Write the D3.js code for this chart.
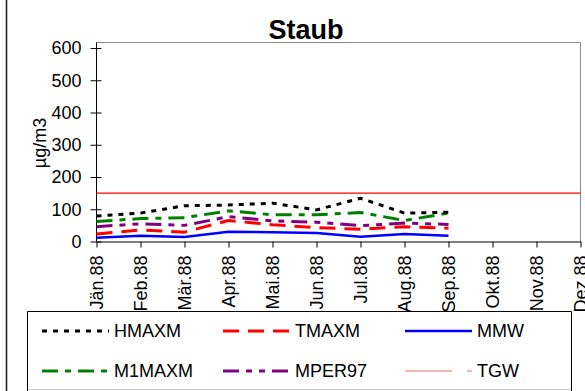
<!DOCTYPE html>
<html><head><meta charset="utf-8">
<script src="https://cdn.jsdelivr.net/npm/d3@7"></script>
<style>
body{margin:0;background:#fff;}
svg{display:block;font-family:"Liberation Sans",Arial,sans-serif;}
</style></head>
<body><svg id="c" width="585" height="391"></svg>
<script>
const months = ["Jän.88","Feb.88","Mär.88","Apr.88","Mai.88","Jun.88","Jul.88","Aug.88","Sep.88","Okt.88","Nov.88","Dez.88"];
const yTicks = [0,100,200,300,400,500,600];
const HMAXM  = [79, 88, 111, 113, 119, 98, 134, 88, 91];
const TMAXM  = [23, 36, 29, 65, 52, 43, 38, 46, 41];
const MMW    = [12, 18, 14, 30, 29, 26, 15, 23, 18];
const M1MAXM = [62, 71, 74, 95, 83, 83, 90, 65, 88];
const MPER97 = [46, 55, 50, 77, 64, 60, 49, 57, 53];
const TGW    = [150,150,150,150,150,150,150,150,150,150,150,150];

const seriesNames = ["HMAXM","TMAXM","MMW","M1MAXM","MPER97","TGW"];
const seriesData = [HMAXM, TMAXM, MMW, M1MAXM, MPER97, TGW];
const styles = [
  {color:"#000000", w:3, dash:"5,6"},
  {color:"#ff0000", w:3, dash:"16,9"},
  {color:"#0000ff", w:2.5, dash:null},
  {color:"#008000", w:3, dash:"16,7,6,7"},
  {color:"#800080", w:3, dash:"16,7,6,7,6,7"},
  {color:"#ff0000", w:1.4, dash:null}
];

const svg = d3.select("#c");
const L = 96.5, R = 580.5, T = 42.5, B = 241.5;
const x = d3.scalePoint().domain(months).range([L, R]);
const y = d3.scaleLinear().domain([0,600]).range([B, 48]);

// outer frame line
svg.append("line").attr("x1",6.5).attr("x2",6.5).attr("y1",0).attr("y2",391)
  .attr("stroke","#222").attr("stroke-width",1.6);

// title
svg.append("text").attr("x",306).attr("y",39).attr("text-anchor","middle")
  .attr("font-size",27).attr("font-weight","bold").text("Staub");

// plot border top/right
svg.append("path").attr("d",`M${L},${T}H${R}V${B}`).attr("fill","none")
  .attr("stroke","#888").attr("stroke-width",1);

// y axis
const ya = svg.append("g").attr("transform",`translate(${L},0)`)
  .call(d3.axisLeft(y).tickValues(yTicks).tickSize(6).tickSizeOuter(0).tickPadding(9));
ya.select(".domain").remove();
ya.selectAll(".tick line").attr("x1",5).attr("stroke","#000");
ya.selectAll(".tick text").attr("font-size",18).attr("font-family","Liberation Sans, Arial, sans-serif").attr("fill","#000");
svg.append("line").attr("x1",L).attr("x2",L).attr("y1",T).attr("y2",B).attr("stroke","#000");

// x axis
const xa = svg.append("g").attr("transform",`translate(0,${B})`)
  .call(d3.axisBottom(x).tickSize(6).tickSizeOuter(0));
xa.select(".domain").attr("stroke","#000");
xa.selectAll(".tick text").attr("font-size",18).attr("font-family","Liberation Sans, Arial, sans-serif")
  .attr("fill","#000").attr("transform","rotate(-90)").attr("x",-14).attr("y",0)
  .attr("dy","0.35em").attr("text-anchor","end");

// y label
svg.append("text").attr("transform","translate(46,143) rotate(-90)").attr("text-anchor","middle")
  .attr("font-size",18).text("µg/m3");

// series
const line = d3.line().x((d,i)=>x(months[i])).y(d=>y(d));
const order = [5,2,1,4,3,0];
order.forEach(k=>{
  const st = styles[k];
  svg.append("path").datum(seriesData[k]).attr("d",line).attr("fill","none")
    .attr("stroke",st.color).attr("stroke-width",st.w)
    .attr("stroke-dasharray",st.dash).attr("stroke-linejoin","round");
});

// legend
const lg = svg.append("g");
lg.append("rect").attr("x",27).attr("y",311.5).attr("width",544).attr("height",79).attr("fill","#fff");
lg.append("path").attr("d","M27.5,391V311.5H571.5V391").attr("fill","none").attr("stroke","#000");
lg.append("line").attr("x1",28).attr("x2",571).attr("y1",389.5).attr("y2",389.5).attr("stroke","#ccc");
const colX = [42, 223, 405], rowY = [331, 371];
seriesNames.forEach((n,i)=>{
  const cx = colX[i%3], cy = rowY[Math.floor(i/3)];
  const st = styles[i];
  lg.append("line").attr("x1",cx).attr("x2",cx+67).attr("y1",cy).attr("y2",cy)
    .attr("stroke", i===5 ? "#ff6a6a" : st.color).attr("stroke-width", i===5 ? 1.2 : st.w)
    .attr("stroke-dasharray", i===5 ? "47,15" : st.dash);
  lg.append("text").attr("x",cx+72).attr("y",cy).attr("dy","0.35em").attr("font-size",18).text(n);
});
</script></body></html>
